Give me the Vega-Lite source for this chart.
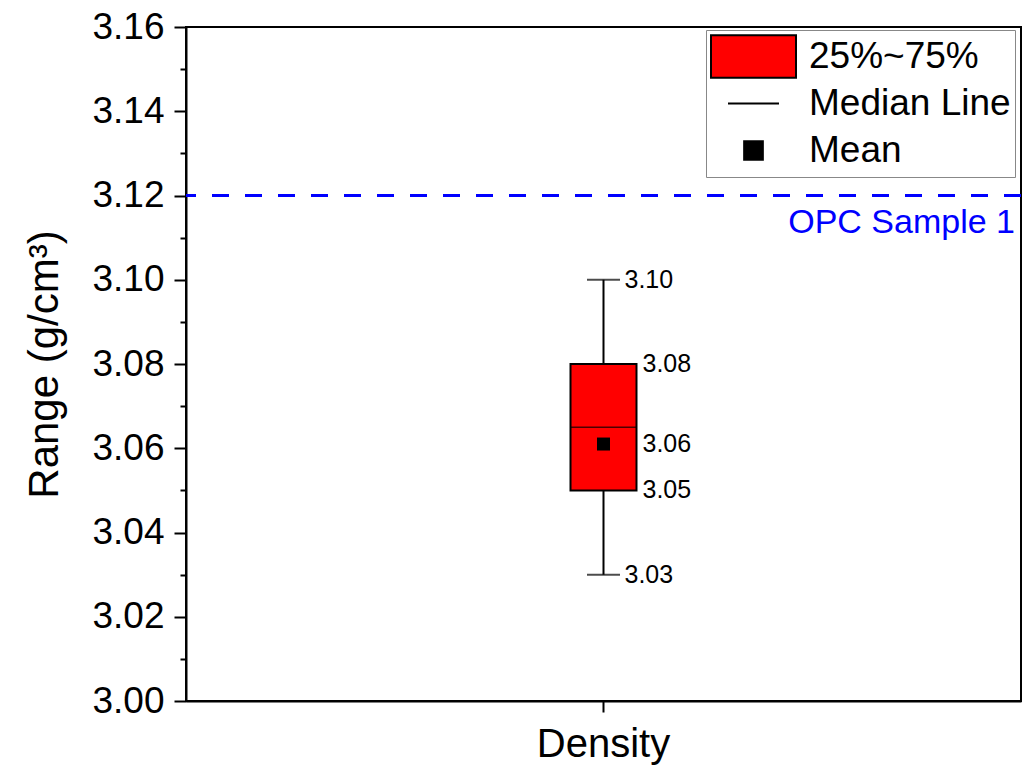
{
  "$schema": "https://vega.github.io/schema/vega-lite/v6.json",
  "width": 835,
  "height": 674,
  "autosize": {"type": "none"},
  "padding": {"left": 186, "top": 27, "right": 8, "bottom": 65},
  "config": {
    "font": "Liberation Sans",
    "view": {"stroke": "black", "strokeWidth": 2},
    "axis": {
      "grid": false,
      "domainColor": "black",
      "domainWidth": 2,
      "tickColor": "black",
      "tickWidth": 2,
      "labelColor": "black",
      "titleColor": "black",
      "labelFont": "Liberation Sans",
      "titleFont": "Liberation Sans",
      "titleFontWeight": "normal"
    },
    "legend": {
      "title": null,
      "orient": "none",
      "legendX": 520,
      "legendY": 3,
      "padding": 4,
      "strokeColor": "#888888",
      "fillColor": "white",
      "symbolSize": 7225,
      "symbolStrokeColor": "black",
      "symbolStrokeWidth": 2,
      "symbolOpacity": 1,
      "clipHeight": 45,
      "rowPadding": 2,
      "labelFont": "Liberation Sans",
      "labelFontSize": 37,
      "labelColor": "black",
      "labelOffset": 12,
      "labelLimit": 400
    }
  },
  "datasets": {
    "box": [
      {"sample": "Density", "min": 3.03, "q1": 3.05, "median": 3.065, "mean": 3.061, "q3": 3.08, "max": 3.10}
    ],
    "legendItems": [
      {"item": "25%~75%"},
      {"item": "Median Line"},
      {"item": "Mean"}
    ],
    "reference": [
      {"value": 3.12, "label": "OPC Sample 1"}
    ]
  },
  "resolve": {"axis": {"y": "independent"}},
  "layer": [
    {
      "description": "Reference density line, carrying the minor y ticks",
      "data": {"name": "reference"},
      "mark": {"type": "rule", "color": "#0000ff", "strokeWidth": 3, "strokeDash": [17, 16]},
      "encoding": {
        "y": {
          "field": "value",
          "type": "quantitative",
          "scale": {"domain": [3.0, 3.16], "nice": false, "zero": false},
          "axis": {
            "orient": "left",
            "values": [3.01, 3.03, 3.05, 3.07, 3.09, 3.11, 3.13, 3.15],
            "labels": false,
            "domain": false,
            "tickSize": 6,
            "title": null
          }
        }
      }
    },
    {
      "data": {"name": "reference"},
      "mark": {"type": "text", "color": "#0000ff", "fontSize": 34, "align": "right", "baseline": "alphabetic", "dx": -6, "dy": 37},
      "encoding": {
        "x": {"value": "width"},
        "y": {"field": "value", "type": "quantitative", "axis": null},
        "text": {"field": "label"}
      }
    },
    {
      "description": "Whisker from min to max",
      "data": {"name": "box"},
      "mark": {"type": "rule", "color": "black", "strokeWidth": 2},
      "encoding": {
        "x": {
          "field": "sample",
          "type": "nominal",
          "scale": {"domain": ["Density"]},
          "axis": {"title": null, "labelAngle": 0, "labelFontSize": 40, "tickSize": 11, "labelPadding": 12}
        },
        "y": {
          "field": "min",
          "type": "quantitative",
          "axis": {
            "orient": "left",
            "values": [3.0, 3.02, 3.04, 3.06, 3.08, 3.1, 3.12, 3.14, 3.16],
            "format": ".2f",
            "labelFontSize": 37,
            "tickSize": 12,
            "labelPadding": 10,
            "title": "Range (g/cm³)",
            "titleFontSize": 42,
            "titlePadding": 25
          }
        },
        "y2": {"field": "max"}
      }
    },
    {
      "data": {"name": "box"},
      "transform": [{"fold": ["min", "max"], "as": ["stat", "v"]}],
      "mark": {"type": "tick", "color": "black", "thickness": 2, "size": 33},
      "encoding": {
        "x": {"field": "sample", "type": "nominal"},
        "y": {"field": "v", "type": "quantitative", "axis": null}
      }
    },
    {
      "description": "Interquartile box",
      "data": {"name": "box"},
      "mark": {"type": "bar", "fill": "#ff0000", "stroke": "black", "strokeWidth": 2, "size": 66},
      "encoding": {
        "x": {"field": "sample", "type": "nominal"},
        "y": {"field": "q1", "type": "quantitative", "axis": null},
        "y2": {"field": "q3"}
      }
    },
    {
      "data": {"name": "box"},
      "mark": {"type": "tick", "color": "black", "thickness": 1.5, "size": 66},
      "encoding": {
        "x": {"field": "sample", "type": "nominal"},
        "y": {"field": "median", "type": "quantitative", "axis": null}
      }
    },
    {
      "data": {"name": "box"},
      "mark": {"type": "point", "shape": "square", "filled": true, "color": "black", "opacity": 1, "size": 169},
      "encoding": {
        "x": {"field": "sample", "type": "nominal"},
        "y": {"field": "mean", "type": "quantitative", "axis": null}
      }
    },
    {
      "description": "Value labels next to the whisker caps",
      "data": {"name": "box"},
      "transform": [{"fold": ["min", "max"], "as": ["stat", "v"]}],
      "mark": {"type": "text", "fontSize": 25, "color": "black", "align": "left", "baseline": "middle", "dx": 21},
      "encoding": {
        "x": {"field": "sample", "type": "nominal"},
        "y": {"field": "v", "type": "quantitative", "axis": null},
        "text": {"field": "v", "type": "quantitative", "format": ".2f"}
      }
    },
    {
      "description": "Value labels next to the box",
      "data": {"name": "box"},
      "transform": [{"fold": ["q1", "mean", "q3"], "as": ["stat", "v"]}],
      "mark": {"type": "text", "fontSize": 25, "color": "black", "align": "left", "baseline": "middle", "dx": 39},
      "encoding": {
        "x": {"field": "sample", "type": "nominal"},
        "y": {"field": "v", "type": "quantitative", "axis": null},
        "text": {"field": "v", "type": "quantitative", "format": ".2f"}
      }
    },
    {
      "description": "Legend entries only",
      "data": {"name": "legendItems"},
      "mark": {"type": "point", "filled": true, "opacity": 0, "strokeWidth": 2},
      "encoding": {
        "fill": {
          "field": "item",
          "type": "nominal",
          "scale": {"domain": ["25%~75%", "Median Line", "Mean"], "range": ["#ff0000", "black", "black"]},
          "legend": {"title": null}
        },
        "stroke": {
          "field": "item",
          "type": "nominal",
          "scale": {"domain": ["25%~75%", "Median Line", "Mean"], "range": ["black", "black", "black"]},
          "legend": {"title": null}
        },
        "shape": {
          "field": "item",
          "type": "nominal",
          "scale": {
            "domain": ["25%~75%", "Median Line", "Mean"],
            "range": ["M-1,-0.5H1V0.5H-1Z", "M-0.6,0H0.6", "M-0.22,-0.22H0.22V0.22H-0.22Z"]
          },
          "legend": {"title": null}
        }
      }
    }
  ]
}
